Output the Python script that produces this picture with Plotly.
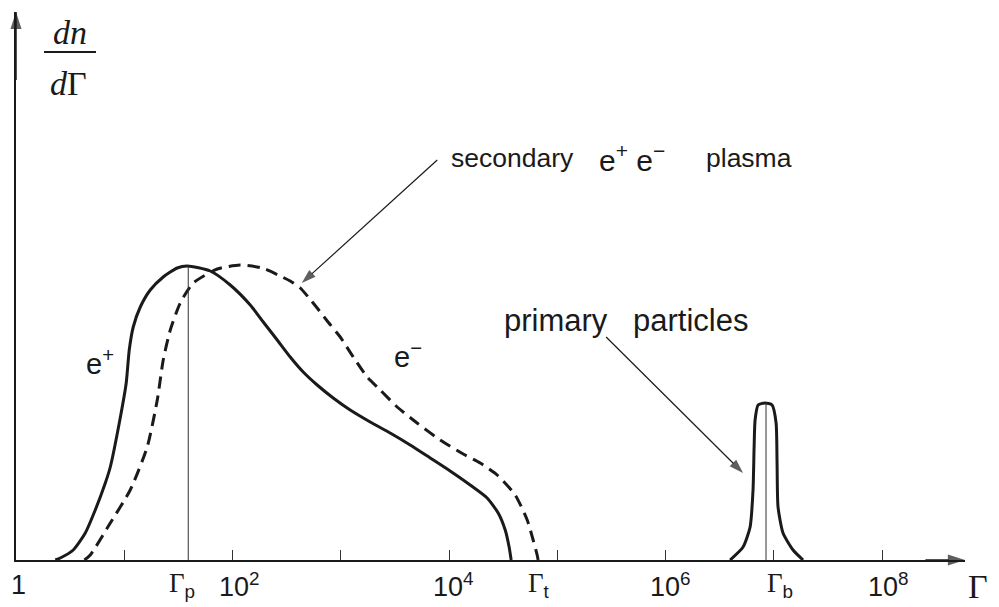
import numpy as np
import plotly.graph_objects as go

# ---------------- data (log10 Gamma, dn/dGamma in arbitrary units) ----------------
ep_lg = [0.363, 0.409, 0.529, 0.640, 0.732, 0.825, 0.871, 0.954, 1.018, 1.046,
         1.083, 1.148, 1.240, 1.360, 1.489, 1.582, 1.794, 1.979, 2.164, 2.284,
         2.413, 2.533, 2.653, 2.782, 2.930, 3.087, 3.272, 3.456, 3.641, 3.826,
         4.010, 4.195, 4.352, 4.454, 4.519, 4.555, 4.574]
ep_y = [0, 2, 10, 27, 50, 77, 93, 137, 177, 210,
        233, 253, 270, 283, 292, 294, 289, 275, 255, 238,
        220, 203, 188, 175, 162, 150, 138, 127, 115, 102,
        89, 75, 62, 47, 30, 13, 0]

em_lg = [0.632, 0.686, 0.871, 1.055, 1.212, 1.305, 1.360, 1.425, 1.517, 1.637,
         1.859, 2.071, 2.274, 2.441, 2.533, 2.626, 2.699, 2.782, 2.875, 2.995,
         3.115, 3.244, 3.364, 3.521, 3.705, 3.918, 4.131, 4.288, 4.445, 4.611,
         4.722, 4.777, 4.814, 4.823]
em_y = [0, 5, 37, 70, 113, 160, 200, 230, 257, 277,
        291, 295, 292, 284, 279, 272, 263, 252, 239, 223,
        203, 183, 170, 153, 137, 120, 106, 97, 85, 65,
        40, 20, 5, 0]

pr_lg = [6.596, 6.716, 6.781, 6.808, 6.818, 6.827, 6.855, 6.919, 6.984, 7.021,
         7.030, 7.039, 7.085, 7.178, 7.270]
pr_y = [0, 13, 33, 70, 113, 140, 155, 157, 155, 137, 97, 53, 27, 10, 0]

GAMMA_P_LG = 1.591
GAMMA_T_LG = 4.83
GAMMA_B_LG = 6.928
GAMMA_P_PEAK = 294
GAMMA_B_PEAK = 157

tick_vals = [1e1, 1e2, 1e3, 1e4, 1e5, 1e6, 1e7, 1e8]
label_lg = [0, GAMMA_P_LG, 2, 4, GAMMA_T_LG, 6, GAMMA_B_LG, 8]
G = '<span style="font-family:Liberation Serif">Γ</span>'
label_txt = ["1", G + "<sub>p</sub>", "10<sup>2</sup>", "10<sup>4</sup>",
             G + "<sub>t</sub>", "10<sup>6</sup>", G + "<sub>b</sub>", "10<sup>8</sup>"]
label_shift = [2, -6, 7, 4, 0, 5, 14, 6]

sec_arrow_lg = [3.891, 2.640]
sec_arrow_y = [400, 277]
pri_arrow_lg = [5.451, 6.716]
pri_arrow_y = [223, 87]

X_MAX_LG = 8.766
Y_MAX = 548

INK = "#1a1a1a"
SANS = "Liberation Sans, Arial, sans-serif"
SERIF = "Liberation Serif, Times New Roman, serif"


def g(v):
    return [10 ** a for a in v]


fig = go.Figure()

curve_line = dict(color=INK, width=3, shape="spline", smoothing=0.6)
fig.add_trace(go.Scatter(x=g(ep_lg), y=ep_y, mode="lines", line=curve_line,
                         hoverinfo="skip", showlegend=False))
fig.add_trace(go.Scatter(x=g(em_lg), y=em_y, mode="lines",
                         line=dict(curve_line, dash="12px,7px"),
                         hoverinfo="skip", showlegend=False))
fig.add_trace(go.Scatter(x=g(pr_lg), y=pr_y, mode="lines", line=curve_line,
                         hoverinfo="skip", showlegend=False))

# vertical marker lines Γp, Γb
for lg, peak in [(GAMMA_P_LG, GAMMA_P_PEAK), (GAMMA_B_LG, GAMMA_B_PEAK)]:
    fig.add_trace(go.Scatter(x=g([lg, lg]), y=[0, peak], mode="lines",
                             line=dict(color="#333", width=1),
                             hoverinfo="skip", showlegend=False))

# pointer arrows
for xs, ys in [(sec_arrow_lg, sec_arrow_y), (pri_arrow_lg, pri_arrow_y)]:
    fig.add_trace(go.Scatter(x=g(xs), y=ys, mode="lines+markers",
                             line=dict(color=INK, width=1.2),
                             marker=dict(symbol="arrow", size=[0, 15], angleref="previous",
                                         color=INK, line=dict(width=0)),
                             cliponaxis=False, hoverinfo="skip", showlegend=False))

# axis arrowheads
fig.add_trace(go.Scatter(x=g([8.4, X_MAX_LG]), y=[0, 0], mode="lines+markers",
                         line=dict(color=INK, width=1.5),
                         marker=dict(symbol="arrow", size=[0, 18], angleref="previous",
                                     color=INK, line=dict(width=0)),
                         cliponaxis=False, hoverinfo="skip", showlegend=False))
fig.add_trace(go.Scatter(x=[1, 1], y=[480, Y_MAX], mode="lines+markers",
                         line=dict(color=INK, width=1.5),
                         marker=dict(symbol="arrow", size=[0, 18], angleref="previous",
                                     color=INK, line=dict(width=0)),
                         cliponaxis=False, hoverinfo="skip", showlegend=False))

annotations = []
for lg, txt, sh in zip(label_lg, label_txt, label_shift):
    annotations.append(dict(x=lg, y=-0.0456, xref="x", yref="paper", text=txt,
                            showarrow=False, xshift=sh, xanchor="center", yanchor="middle",
                            font=dict(family=SANS, size=27, color=INK)))

txt_font = dict(family=SANS, size=26.5, color=INK)
big_font = dict(family=SANS, size=31, color=INK)
annotations += [
    dict(x=4.029, y=402, xref="x", yref="y", xanchor="left", yanchor="middle", xshift=-3,
         text="secondary", showarrow=False, font=txt_font),
    dict(x=5.396, y=402, xref="x", yref="y", xanchor="left", yanchor="middle", xshift=-3,
         text="e<sup>+</sup>\u00a0e<sup>\u2212</sup>", showarrow=False,
         font=dict(family=SANS, size=30, color=INK)),
    dict(x=6.384, y=402, xref="x", yref="y", xanchor="left", yanchor="middle", xshift=-3,
         text="plasma", showarrow=False, font=txt_font),
    dict(x=4.518, y=240, xref="x", yref="y", xanchor="left", yanchor="middle", xshift=-3,
         text="primary", showarrow=False, font=big_font),
    dict(x=5.709, y=240, xref="x", yref="y", xanchor="left", yanchor="middle", xshift=-3,
         text="particles", showarrow=False, font=big_font),
    dict(x=0.779, y=198, xref="x", yref="y", xanchor="center", yanchor="middle",
         text="e<sup>+</sup>", showarrow=False, font=dict(family=SANS, size=29, color=INK)),
    dict(x=3.623, y=205, xref="x", yref="y", xanchor="center", yanchor="middle",
         text="e<sup>\u2212</sup>", showarrow=False, font=dict(family=SANS, size=29, color=INK)),
    # y-axis label dn/dΓ
    dict(x=0.0569, y=0.9617, xref="paper", yref="paper", xanchor="center", yanchor="middle",
         text="<i>dn</i>", showarrow=False, font=dict(family=SERIF, size=34, color=INK)),
    dict(x=0.0558, y=0.870, xref="paper", yref="paper", xanchor="center", yanchor="middle",
         text="<i>d</i>Γ", showarrow=False, font=dict(family=SERIF, size=34, color=INK)),
    # x-axis label Γ
    dict(x=1.026, y=-0.049, xref="paper", yref="paper", xanchor="right", yanchor="middle",
         text="Γ", showarrow=False, font=dict(family=SERIF, size=34, color=INK)),
]

# the page body has an 8px default margin: figure size and margins compensate so the
# plot area lands at the same screen position as in the reference
fig.update_layout(
    width=983, height=607,
    margin=dict(l=8, r=26, t=4, b=55),
    paper_bgcolor="white", plot_bgcolor="white",
    annotations=annotations,
    shapes=[dict(type="line", xref="paper", yref="paper", x0=0.0295, x1=0.0843,
                 y0=0.927, y1=0.927, line=dict(color=INK, width=2))],
    xaxis=dict(type="log", range=[0, X_MAX_LG], showgrid=False, zeroline=False,
               showline=True, linecolor=INK, linewidth=1.5,
               ticks="inside", tickvals=tick_vals, ticklen=10, tickwidth=1,
               tickcolor="#333", showticklabels=False),
    yaxis=dict(range=[0, Y_MAX], showgrid=False, zeroline=False,
               showline=True, linecolor=INK, linewidth=1.5,
               ticks="", showticklabels=False),
)

fig.write_html("out.html")
